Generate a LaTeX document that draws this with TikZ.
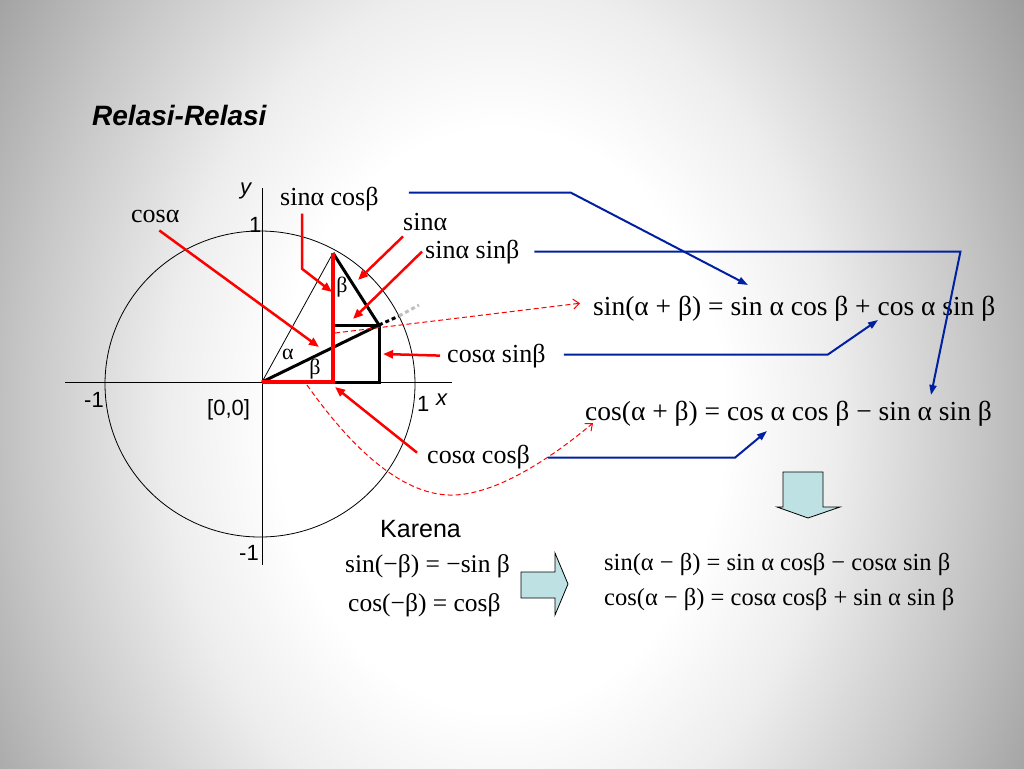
\documentclass[tikz,border=0pt]{standalone}
\usepackage{fontspec}
\setmainfont{Liberation Serif}
\setsansfont{Liberation Sans}
\usetikzlibrary{arrows.meta}

\pgfdeclareradialshading{slidebg}{\pgfpoint{0bp}{0bp}}{color(0bp)=(white); color(8bp)=(white); color(12bp)=(black!7); color(17bp)=(black!22); color(24bp)=(black!45); color(30bp)=(black!52); color(100bp)=(black!54)}
\definecolor{linkblue}{RGB}{0,32,160}
\definecolor{boxcyan}{RGB}{190,226,228}

\tikzset{
  lbl/.style={font=\fontsize{26}{30}\selectfont, anchor=base west, inner sep=0pt},
  greek/.style={font=\fontsize{22}{26}\selectfont, inner sep=0pt},
  eqbig/.style={font=\fontsize{27.5}{32}\selectfont, anchor=base west, inner sep=0pt},
  eqsmall/.style={font=\fontsize{24.5}{28}\selectfont, anchor=base west, inner sep=0pt},
  axlbl/.style={font=\sffamily\fontsize{22}{26}\selectfont, anchor=base west, inner sep=0pt},
  redarrow/.style={draw=red, line width=2.5pt, -{Triangle[length=10pt,width=8pt]}},
  reddash/.style={draw=red, line width=1pt, dash pattern=on 5pt off 3pt, -{Straight Barb[length=6pt,width=10pt]}},
  bluearrow/.style={draw=linkblue, line width=2pt, -{Triangle[length=10pt,width=7pt]}},
  blockarrow/.style={draw=black, line width=0.8pt, fill=boxcyan},
}

\begin{document}
\begin{tikzpicture}[x=1pt,y=-1pt]
\useasboundingbox (0,0) rectangle (1024,768);
\clip (0,0) rectangle (1024,768);
\shade[shading=slidebg] (-200,-490) rectangle (1200,1330);

\node[font=\sffamily\bfseries\itshape\fontsize{28}{32}\selectfont, anchor=base west, inner sep=0pt] (title) at (92,125) {Relasi-Relasi};

% unit circle and axes
\draw[line width=0.8pt] (260,384) ellipse [x radius=155, y radius=153];
\draw[line width=0.8pt] (65,382) -- (452,382);
\draw[line width=0.8pt] (262,188) -- (262,565);
\node[axlbl, font=\sffamily\itshape\fontsize{22}{26}\selectfont] (ylbl) at (240,194) {y};
\node[axlbl] (ytop) at (249,232) {1};
\node[axlbl] (xneg) at (84,407) {-1};
\node[axlbl] (orig) at (207,415) {[0,0]};
\node[axlbl] (xpos) at (417,411) {1};
\node[axlbl, font=\sffamily\itshape\fontsize{22}{26}\selectfont] (xlbl) at (436,405) {x};
\node[axlbl] (yneg) at (239,560) {-1};

\coordinate (O) at (262,382);
\coordinate (P) at (333,253);
\coordinate (Q) at (379,325);
\coordinate (S) at (333,325);
\coordinate (F) at (333,382);
\coordinate (R) at (379,382);

\draw[line width=0.8pt] (O) -- (P);
\draw[line width=3pt] (O) -- (Q) -- (P);
\draw[line width=3pt] (S) -- (Q) -- (R) -- (F);
\draw[red, line width=4pt] (O) -- (F) -- (P);
\draw[line width=3pt, dash pattern=on 4pt off 3pt] (Q) -- (399,316);
\draw[black!25, line width=3pt, dash pattern=on 4pt off 3pt] (399,316) -- (419,305);
\node[greek] (alpha) at (288,354) {α};
\node[greek] (betaB) at (315,369) {β};
\node[greek] (betaT) at (342,287) {β};

% labels with red arrows
\node[lbl] (cosA) at (131,222) {cosα};
\node[lbl] (sinAcosB) at (280,205) {sinα cosβ};
\node[lbl] (sinA) at (403,230) {sinα};
\node[lbl] (sinAsinB) at (425,258) {sinα sinβ};
\node[lbl] (cosAsinB) at (447,362) {cosα sinβ};
\node[lbl] (cosAcosB) at (427,463) {cosα cosβ};

\coordinate (tipCosA) at (319,347);
\coordinate (tipSinAcosB) at (332,292);
\coordinate (tipSinA) at (358,280);
\coordinate (tipSinAsinB) at (353,319);
\coordinate (tipCosAsinB) at (383,354);
\coordinate (tipCosAcosB) at (335,387);

\draw[redarrow] ([shift={(4,8)}]cosA.south) -- (tipCosA);
\draw[redarrow] ([shift={(22,3)}]sinAcosB.south west) -- ++(0,55) -- (tipSinAcosB);
\draw[redarrow] ([shift={(0,6)}]sinA.south west) -- (tipSinA);
\draw[redarrow] ([xshift=-3pt]sinAsinB.west) -- (tipSinAsinB);
\draw[redarrow] ([xshift=-7pt]cosAsinB.west) -- (tipCosAsinB);
\draw[redarrow] ([shift={(-10,-4)}]cosAcosB.west) -- (tipCosAcosB);

% sum formulas
\node[eqbig] (sinSum) at (593,315) {sin(α + β) = sin α cos β + cos α sin β};
\node[eqbig] (cosSum) at (585,420) {cos(α + β) = cos α cos β − sin α sin β};

\coordinate (inSinCos) at (748,285);
\coordinate (inSinSin) at (931,395);
\coordinate (inCosSin) at (878,320);
\coordinate (inCosCos) at (767,431);

\draw[bluearrow] ([shift={(30,-6)}]sinAcosB.east) -- ++(162,0) -- (inSinCos);
\draw[bluearrow] ([xshift=15pt]sinAsinB.east) -- ++(426,0) -- (inSinSin);
\draw[bluearrow] ([shift={(18,-1)}]cosAsinB.east) -- ++(264,0) -- (inCosSin);
\draw[bluearrow] ([shift={(18,1)}]cosAcosB.east) -- ++(187,0) -- (inCosCos);

\coordinate (dashA) at (335,333);
\coordinate (dashB) at (307,385);
\coordinate (cosIn) at (593,423);
\draw[reddash] (dashA) -- ([shift={(-13,-5)}]sinSum.west);
\draw[reddash] (dashB) .. controls (360,460) and (410,497) .. (455,495) .. controls (500,493) and (555,455) .. (cosIn);

% difference formulas
\draw[blockarrow] (783,472) -- (823,472) -- (823,507) -- (840,507) -- (808,518) -- (777,507) -- (783,507) -- cycle;
\node[font=\sffamily\fontsize{25}{30}\selectfont, anchor=base west, inner sep=0pt] (karena) at (380,537) {Karena};
\node[eqsmall, font=\fontsize{25.5}{30}\selectfont] (sinNeg) at (345,572) {sin(−β) = −sin β};
\node[eqsmall, font=\fontsize{25.5}{30}\selectfont] (cosNeg) at (348,611) {cos(−β) = cosβ};
\draw[blockarrow] (521,572) -- (555,572) -- (555,553) -- (568,584) -- (555,615) -- (555,598) -- (521,598) -- cycle;
\node[eqsmall] (sinDiff) at (604,570) {sin(α − β) = sin α cosβ − cosα sin β};
\node[eqsmall] (cosDiff) at (604,605) {cos(α − β) = cosα cosβ + sin α sin β};
\end{tikzpicture}
\end{document}
